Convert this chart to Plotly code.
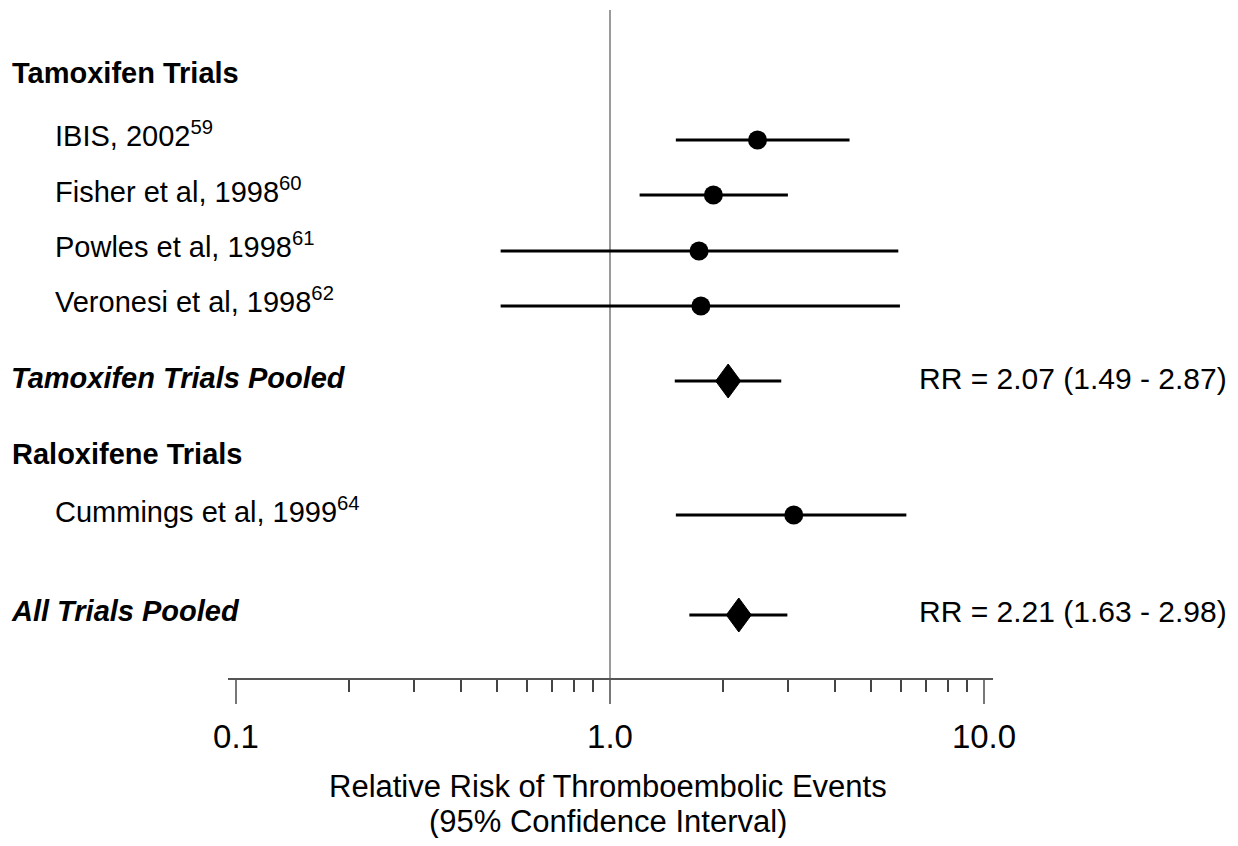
import plotly.graph_objects as go

# ---------------- data ----------------
group_headers = ["Tamoxifen Trials", "Raloxifene Trials"]

study_names = ["IBIS, 2002", "Fisher et al, 1998", "Powles et al, 1998",
               "Veronesi et al, 1998", "Cummings et al, 1999"]
study_refs = ["59", "60", "61", "62", "64"]
study_rr = [2.48, 1.89, 1.73, 1.75, 3.10]
study_lo = [1.50, 1.20, 0.51, 0.51, 1.50]
study_hi = [4.37, 2.99, 5.90, 5.96, 6.20]

pooled_names = ["Tamoxifen Trials Pooled", "All Trials Pooled"]
pooled_rr = [2.07, 2.21]
pooled_lo = [1.49, 1.63]
pooled_hi = [2.87, 2.98]

tick_vals = [0.1, 1, 10]
tick_text = ["0.1", "1.0", "10.0"]
minor_vals = [0.2, 0.3, 0.4, 0.5, 0.6, 0.7, 0.8, 0.9,
              2, 3, 4, 5, 6, 7, 8, 9]

axis_title_lines = ["Relative Risk of Thromboembolic Events",
                    "(95% Confidence Interval)"]

# ---------------- layout (screen-pixel positions) ----------------
OFF = 8                      # default page body margin
W, H = 1238 - 2 * OFF, 846 - 2 * OFF
SL, SR, ST, SB = 228, 993, 10, 678     # plot area in screen pixels
X_MIN, X_MAX = -1 - 8 / 374.0, 1 + 9 / 374.0   # log10 range of x axis
PX_PER_DECADE = (SR - SL) / (X_MAX - X_MIN)
header_text_y = [73, 454]
study_y = [140, 195, 251, 306, 515]
study_text_y = [134, 190, 245, 300, 510]
pooled_y = [381, 615]
pooled_text_y = [378, 611]
title_y = [786, 821]
DIAMOND_HALF_W = 12.5   # px
DIAMOND_HALF_H = 17     # px

FONT = "Liberation Sans, Arial, Helvetica, sans-serif"
FS = 29


def sx(px):
    return (px - SL) / (SR - SL)


def sy(py):
    return (SB - py) / (SB - ST)


fig = go.Figure()

# individual studies: confidence intervals + point estimates
fig.add_trace(go.Scatter(
    x=study_rr, y=study_y, mode="markers",
    marker=dict(symbol="circle", size=19, color="black"),
    error_x=dict(type="data", symmetric=False,
                 array=[h - r for h, r in zip(study_hi, study_rr)],
                 arrayminus=[r - l for r, l in zip(study_rr, study_lo)],
                 width=0, thickness=3, color="black"),
    showlegend=False, hoverinfo="skip",
))

# pooled estimates: confidence intervals
fig.add_trace(go.Scatter(
    x=pooled_rr, y=pooled_y, mode="markers",
    marker=dict(size=1, color="rgba(0,0,0,0)"),
    error_x=dict(type="data", symmetric=False,
                 array=[h - r for h, r in zip(pooled_hi, pooled_rr)],
                 arrayminus=[r - l for r, l in zip(pooled_rr, pooled_lo)],
                 width=0, thickness=3, color="black"),
    showlegend=False, hoverinfo="skip",
))

# pooled estimates: diamonds centred on the pooled RR
k = 10 ** (DIAMOND_HALF_W / PX_PER_DECADE)
dx, dy = [], []
for r, y in zip(pooled_rr, pooled_y):
    dx += [r / k, r, r * k, r, r / k, None]
    dy += [y, y - DIAMOND_HALF_H, y, y + DIAMOND_HALF_H, y, None]
fig.add_trace(go.Scatter(
    x=dx, y=dy, mode="lines", fill="toself", fillcolor="black",
    line=dict(color="black", width=1),
    showlegend=False, hoverinfo="skip",
))

annotations = []
for name, y in zip(group_headers, header_text_y):
    annotations.append(dict(
        text="<b>%s</b>" % name, x=sx(10), xref="paper",
        y=y, yref="y", xanchor="left", yanchor="middle", showarrow=False,
        font=dict(size=FS, color="black", family=FONT)))

for name, ref, y in zip(study_names, study_refs, study_text_y):
    annotations.append(dict(
        text="%s<sup>%s</sup>" % (name, ref), x=sx(53), xref="paper",
        y=y, yref="y", xanchor="left", yanchor="middle", showarrow=False,
        font=dict(size=FS, color="black", family=FONT)))

for name, y, r, l, h in zip(pooled_names, pooled_text_y, pooled_rr, pooled_lo, pooled_hi):
    annotations.append(dict(
        text="<b><i>%s</i></b>" % name, x=sx(9), xref="paper",
        y=y, yref="y", xanchor="left", yanchor="middle", showarrow=False,
        font=dict(size=FS, color="black", family=FONT)))
    annotations.append(dict(
        text="RR = %.2f (%.2f - %.2f)" % (r, l, h), x=sx(1229), xref="paper",
        y=y, yref="y", xanchor="right", yanchor="middle", showarrow=False,
        font=dict(size=30, color="black", family=FONT)))

for line, y in zip(axis_title_lines, title_y):
    annotations.append(dict(
        text=line, x=sx(608), xref="paper",
        y=sy(y), yref="paper", xanchor="center", yanchor="middle",
        showarrow=False, font=dict(size=31, color="black", family=FONT)))

fig.update_layout(
    width=W, height=H,
    margin=dict(l=SL - OFF, r=W - (SR - OFF), t=ST - OFF, b=H - (SB - OFF), pad=0),
    paper_bgcolor="white", plot_bgcolor="white",
    annotations=annotations,
    shapes=[dict(type="line", xref="x", yref="paper", x0=1, x1=1, y0=0, y1=1,
                 line=dict(color="#9a9a9a", width=2), layer="below")],
    xaxis=dict(
        type="log",
        range=[X_MIN, X_MAX],
        tickmode="array", tickvals=tick_vals, ticktext=tick_text,
        ticks="outside", ticklen=24, tickwidth=2, tickcolor="#777777",
        ticklabelstandoff=4,
        showline=True, linecolor="#555555", linewidth=2,
        showgrid=False, zeroline=False,
        tickfont=dict(size=33, color="black", family=FONT),
        minor=dict(tickmode="array", tickvals=minor_vals, ticks="outside",
                   ticklen=12, tickwidth=1.5, tickcolor="#444444", showgrid=False),
        fixedrange=True,
    ),
    yaxis=dict(
        range=[SB, ST], visible=False, showgrid=False, zeroline=False,
        fixedrange=True,
    ),
    font=dict(family=FONT),
)

fig.write_html("out.html")
